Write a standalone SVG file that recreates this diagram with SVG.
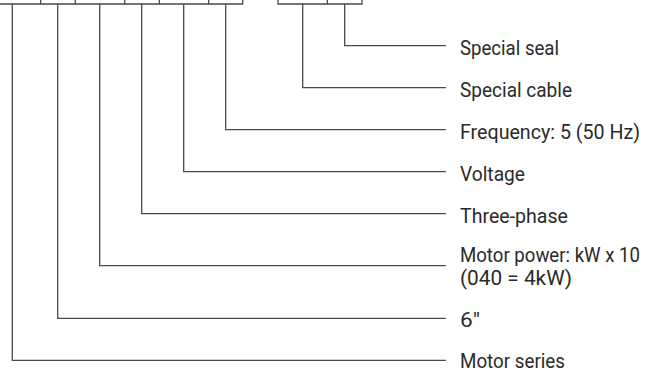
<svg xmlns="http://www.w3.org/2000/svg" width="650" height="372" viewBox="0 0 650 372">
<style>
.ln{fill:none;stroke:#4a4a4a;stroke-width:1.3;}
.t{font-family:Roboto,"Liberation Sans",sans-serif;font-size:20px;fill:#2a2a2a;}
</style>
<rect width="650" height="372" fill="#fff"/>
<g id="code-boxes">
<path class="ln" d="M0 4H243 M40.7 0V4 M75.3 0V4 M124.7 0V4 M159.3 0V4 M208.7 0V4 M242.7 0V4"/>
<path class="ln" d="M278 0V4H362V0 M327.3 0V4"/>
</g>
<g id="connectors">
<path class="ln" d="M344.7 4V45.7H446"/>
<path class="ln" d="M302.7 4V87.7H446"/>
<path class="ln" d="M225.7 4V129.7H446"/>
<path class="ln" d="M183.7 4V171.7H446"/>
<path class="ln" d="M141.7 4V213.7H446"/>
<path class="ln" d="M99.7 4V265.7H446"/>
<path class="ln" d="M57.7 4V318.3H446"/>
<path class="ln" d="M12.3 4V360.3H446"/>
</g>
<g id="n-seal"><text class="t" x="460" y="55" textLength="99" lengthAdjust="spacingAndGlyphs">Special seal</text></g>
<g id="n-cable"><text class="t" x="460" y="97" textLength="112" lengthAdjust="spacingAndGlyphs">Special cable</text></g>
<g id="n-freq"><text class="t" x="460" y="139" textLength="180" lengthAdjust="spacingAndGlyphs">Frequency: 5 (50 Hz)</text></g>
<g id="n-voltage"><text class="t" x="460" y="181" textLength="65" lengthAdjust="spacingAndGlyphs">Voltage</text></g>
<g id="n-phase"><text class="t" x="460" y="223" textLength="108" lengthAdjust="spacingAndGlyphs">Three-phase</text></g>
<g id="n-power"><text class="t" x="460" y="262" textLength="180" lengthAdjust="spacingAndGlyphs">Motor power: kW x 10</text><text class="t" x="460" y="285" textLength="112" lengthAdjust="spacingAndGlyphs">(040 = 4kW)</text></g>
<g id="n-size"><text class="t" x="460" y="327" textLength="20" lengthAdjust="spacingAndGlyphs">6″</text></g>
<g id="n-series"><text class="t" x="460" y="368" textLength="105" lengthAdjust="spacingAndGlyphs">Motor series</text></g>
</svg>
